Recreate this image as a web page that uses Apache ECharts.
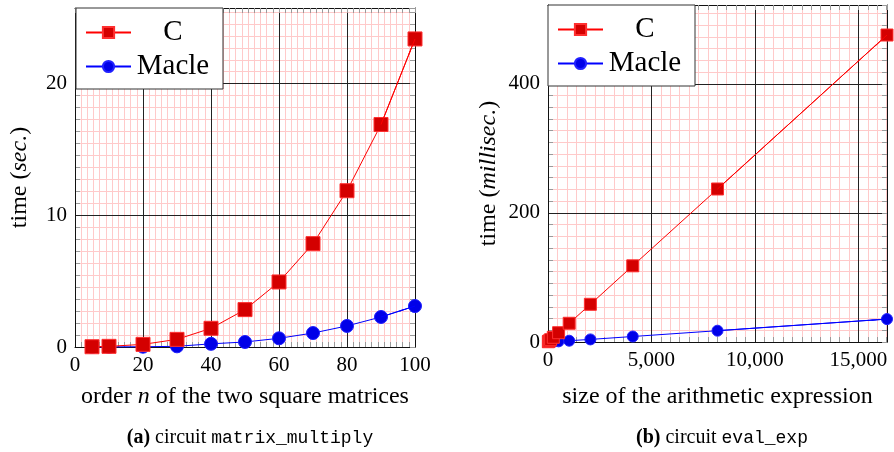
<!DOCTYPE html>
<html>
<head>
<meta charset="utf-8">
<script src="https://cdn.jsdelivr.net/npm/echarts@6/dist/echarts.min.js"></script>
<style>
html, body { margin: 0; padding: 0; background: #fff; }
#chart { width: 894px; height: 452px; }
</style>
</head>
<body>
<div id="chart"></div>
<script>
// (a) circuit matrix_multiply : order n -> time (sec.)
var matOrder = [5, 10, 20, 30, 40, 50, 60, 70, 80, 90, 100];
var matC     = [0.02, 0.05, 0.2, 0.58, 1.42, 2.84, 4.94, 7.85, 11.87, 16.9, 23.4];
var matMacle = [0.0, 0.01, 0.02, 0.05, 0.24, 0.38, 0.66, 1.06, 1.6, 2.28, 3.11];
var matXTicks = [0, 20, 40, 60, 80, 100];
var matYTicks = [0, 10, 20];
var matYMax = 25.75;

// (b) circuit eval_exp : expression size -> time (millisec.)
var expSize  = [16, 32, 64, 128, 256, 512, 1024, 2048, 4096, 8192, 16384];
var expC     = [0.4, 0.9, 1.8, 3.6, 7.3, 14.4, 29, 58.4, 118, 237, 475.5];
var expMacle = [0.03, 0.06, 0.12, 0.25, 0.5, 1, 2, 4, 8.5, 17.5, 35.5];
var expXTicks = [0, 5000, 10000, 15000];
var expYTicks = [0, 200, 400];
var expXMax = 16384;
var expYMax = 522;

var SERIF = "'Liberation Serif', 'Times New Roman', serif";
var MONO = "'Liberation Mono', 'DejaVu Sans Mono', monospace";
var MINOR = 11;   // minor intervals between two major ticks

function thousands(v) {
    return String(v).replace(/\B(?=(\d{3})+(?!\d))/g, ',');
}

function pairs(xs, ys) {
    return xs.map(function (x, i) { return [x, ys[i]]; });
}

function nameStyle(size) {
    return {
        fontFamily: SERIF, fontSize: size, color: '#000',
        rich: { i: { fontFamily: SERIF, fontSize: size, fontStyle: 'italic', color: '#000' } }
    };
}

// main axis (labels + dark grid), minor axis (pink grid + ticks), opposite side (frame + ticks)
function axisSet(dim, grid, ticks, max, name, nameGap, fmt) {
    var step = ticks[1] - ticks[0];
    var sides = dim === 'x' ? ['bottom', 'top'] : ['left', 'right'];
    var tick = { show: true, inside: true, length: 5, lineStyle: { color: '#9a9a9a', width: 1 } };
    var main = {
        type: 'value', gridIndex: grid, position: sides[0], min: ticks[0], max: max, interval: step, z: 1,
        axisLine: { show: true, onZero: false, lineStyle: { color: '#111', width: 1 } },
        axisTick: { show: false },
        axisLabel: {
            color: '#000', fontFamily: SERIF, fontSize: 21, margin: 8,
            showMaxLabel: ticks.indexOf(max) >= 0 ? true : false,
            formatter: fmt
        },
        splitLine: { show: true, lineStyle: { color: '#222', width: 1 } },
        name: name, nameLocation: 'middle', nameGap: nameGap, nameTextStyle: nameStyle(24)
    };
    var minor = {
        type: 'value', gridIndex: grid, position: sides[0], min: ticks[0], max: max, interval: step / MINOR, z: 0,
        axisLine: { show: false, onZero: false },
        axisTick: tick,
        axisLabel: { show: false },
        splitLine: { show: true, lineStyle: { color: '#ffcaca', width: 1 } }
    };
    var other = {
        type: 'value', gridIndex: grid, position: sides[1], min: ticks[0], max: max, interval: step / MINOR, z: 1,
        axisLine: { show: true, onZero: false, lineStyle: { color: '#111', width: 1 } },
        axisTick: tick,
        axisLabel: { show: false },
        splitLine: { show: false }
    };
    return [main, minor, other];
}

function arrowEnd(xs, ys, color) {
    var n = xs.length;
    return {
        silent: true, animation: false,
        symbol: ['none', 'arrow'], symbolSize: [1, 9], symbolOffset: [[0, 0], [0, 8]],
        label: { show: false },
        lineStyle: { color: color, width: 1, type: 'solid' },
        data: [[{ coord: [xs[n - 2], ys[n - 2]] }, { coord: [xs[n - 1], ys[n - 1]] }]]
    };
}

function series(name, axisIdx, xs, ys, big) {
    var isC = name === 'C';
    var line = isC ? '#ff0000' : '#0000ff';
    return {
        name: name, type: 'line', xAxisIndex: axisIdx, yAxisIndex: axisIdx,
        data: pairs(xs, ys), clip: false, animation: false,
        symbol: isC ? 'rect' : 'circle',
        symbolSize: isC ? big : big - 1,
        itemStyle: isC ? { color: '#d40000', borderColor: '#ff3030', borderWidth: 1 }
                       : { color: '#0000e8', borderColor: '#2020ff', borderWidth: 1 },
        lineStyle: { color: line, width: 1 },
        markLine: arrowEnd(xs, ys, line)
    };
}

function legendAt(left, top) {
    return {
        left: left, top: top, orient: 'vertical', data: ['C', 'Macle'], selectedMode: false,
        backgroundColor: '#fff', borderColor: '#333', borderWidth: 1, borderRadius: 0,
        padding: [10, 13, 8, 9], itemGap: 5, itemWidth: 45, itemHeight: 14,
        formatter: '{t|{name}}',
        textStyle: { rich: { t: { width: 74, align: 'center', fontSize: 29, lineHeight: 33, fontFamily: SERIF, color: '#000' } } }
    };
}

function caption(tag, mono, center) {
    return {
        text: '{b|' + tag + '} circuit {m|' + mono + '}',
        left: center, top: 423, textAlign: 'center',
        textStyle: {
            fontFamily: SERIF, fontSize: 20, fontWeight: 'normal', color: '#000',
            rich: {
                b: { fontFamily: SERIF, fontSize: 20, fontWeight: 'bold', color: '#000' },
                m: { fontFamily: MONO, fontSize: 18, color: '#000' }
            }
        }
    };
}

var xA = axisSet('x', 0, matXTicks, matXTicks[matXTicks.length - 1], 'order {i|n} of the two square matrices', 38);
var yA = axisSet('y', 0, matYTicks, matYMax, 'time ({i|sec.})', 43);
var xB = axisSet('x', 1, expXTicks, expXMax, 'size of the arithmetic expression', 43, thousands);
var yB = axisSet('y', 1, expYTicks, expYMax, 'time ({i|millisec.})', 47);

var chart = echarts.init(document.getElementById('chart'), null, { renderer: 'canvas' });
chart.setOption({
    backgroundColor: '#fff',
    animation: false,
    textStyle: { fontFamily: SERIF },
    grid: [
        { left: 75, top: 8, width: 340, height: 339 },
        { left: 548, top: 5, width: 339, height: 337 }
    ],
    xAxis: xA.concat(xB),
    yAxis: yA.concat(yB),
    legend: [legendAt(76, 8), legendAt(548, 5)],
    title: [caption('(a)', 'matrix_multiply', 245), caption('(b)', 'eval_exp', 717)],
    series: [
        series('Macle', 0, matOrder, matMacle, 14),
        series('C', 0, matOrder, matC, 14),
        series('Macle', 3, expSize, expMacle, 12),
        series('C', 3, expSize, expC, 12)
    ]
});
</script>
</body>
</html>
